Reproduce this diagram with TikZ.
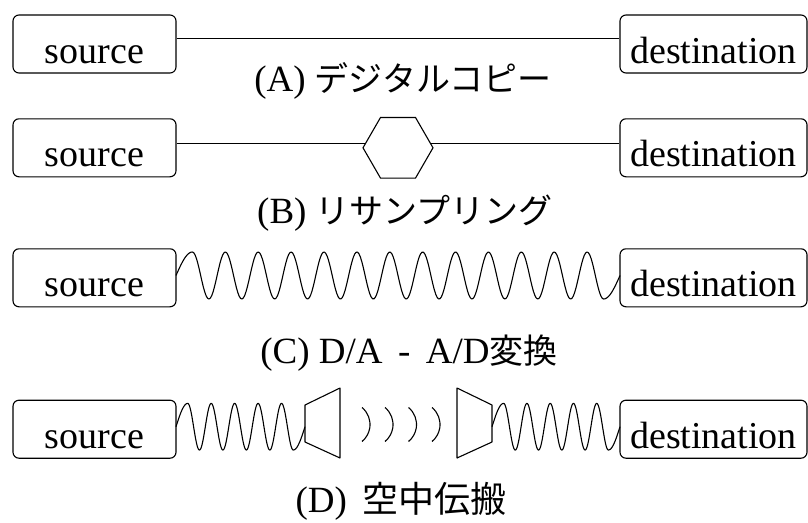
\documentclass[tikz,border=0pt]{standalone}
\usepackage{fontspec}
\setmainfont{Liberation Serif}
\newfontfamily\jpfont{Noto Sans CJK JP}
\usetikzlibrary{shapes.geometric,calc}
\newcommand{\wavepath}[5]{% x0, x1, centre y, number of peaks, amplitude
  \pgfmathsetmacro\wP{(#2-#1)/(#4+0.5)}%
  \pgfmathsetmacro\wa{#1+\wP/2}%
  \pgfmathsetmacro\wb{#2-\wP/2}%
  \pgfmathsetmacro\wk{360/\wP}%
  \pgfmathsetmacro\wh{180/\wP}%
  \draw[line join=round]
    plot[domain=#1:\wa,samples=20] (\x,{#3-#5*sin(\wh*(\x-#1))})
    -- plot[domain=\wa:\wb,samples=300] (\x,{#3-#5*cos(\wk*(\x-\wa))})
    -- plot[domain=\wb:#2,samples=20] (\x,{#3+#5*cos(\wh*(\x-\wb))});
}
\newcommand{\jp}[1]{{\jpfont\fontsize{34}{36}\selectfont #1}}
\begin{document}
\begin{tikzpicture}[x=1pt,y=-1pt,line width=1.1pt,
  box/.style={draw,fill=white,rounded corners=6pt,inner xsep=0pt,inner ysep=0pt,
    text height=48pt,text depth=10pt,font=\fontsize{38}{40}\selectfont},
  srcbox/.style={box,minimum width=163pt},
  dstbox/.style={box,minimum width=187pt},
  lbl/.style={inner sep=0pt,text height=24pt,text depth=7.5pt,
    font=\fontsize{37}{40}\selectfont},
  hexa/.style={draw,fill=white,regular polygon,regular polygon sides=6,
    minimum size=70pt,inner sep=0pt}]
\useasboundingbox (0,0) rectangle (808,522);

% (A)
\node[srcbox] (s1) at (94.5,44) {source};
\node[dstbox] (d1) at (713.5,44) {destination};
\draw ([yshift=5.5pt]s1.east) -- ([yshift=5.5pt]d1.west);
\node[lbl] (l1) at (403,83.5) {(A) \jp{デジタルコピー}};

% (B)
\node[srcbox] (s2) at (94.5,147.8) {source};
\node[dstbox] (d2) at (713.5,147.8) {destination};
\draw ([yshift=4.5pt]s2.east) -- ([yshift=4.5pt]d2.west);
\node[hexa] (hx) at ($(s2.east)!0.5!(d2.west)$) {};
\node[lbl] (l2) at (405,215.5) {(B) \jp{リサンプリング}};

% (C)
\node[srcbox] (s3) at (94.5,277.8) {source};
\node[dstbox] (d3) at (713.5,277.8) {destination};
\wavepath{176}{620}{275.5}{13}{23.5}
\node[lbl] (l3) at (409,355) {(C) D/A \,-\, A/D\jp{変換}};

% (D)
\node[srcbox] (s4) at (94.5,429.2) {source};
\node[dstbox] (d4) at (713.5,429.2) {destination};
\wavepath{176}{305}{426.7}{5}{23.3}
\wavepath{492}{620}{426.7}{5}{23.3}
\draw[line join=round] (305,405) -- (340,388) -- (340,458) -- (305,442) -- cycle;
\draw[line join=round] (457,388) -- (492,405) -- (492,442) -- (457,458) -- cycle;
\foreach \L in {362,385,408.5,432}
  \draw (\L,407.5) arc[start angle=-50.6,end angle=50.6,radius=22];
\node[lbl] (l4) at (401,504.5) {(D)\, {\jpfont\fontsize{36}{38}\selectfont 空中伝搬}};
\end{tikzpicture}
\end{document}
